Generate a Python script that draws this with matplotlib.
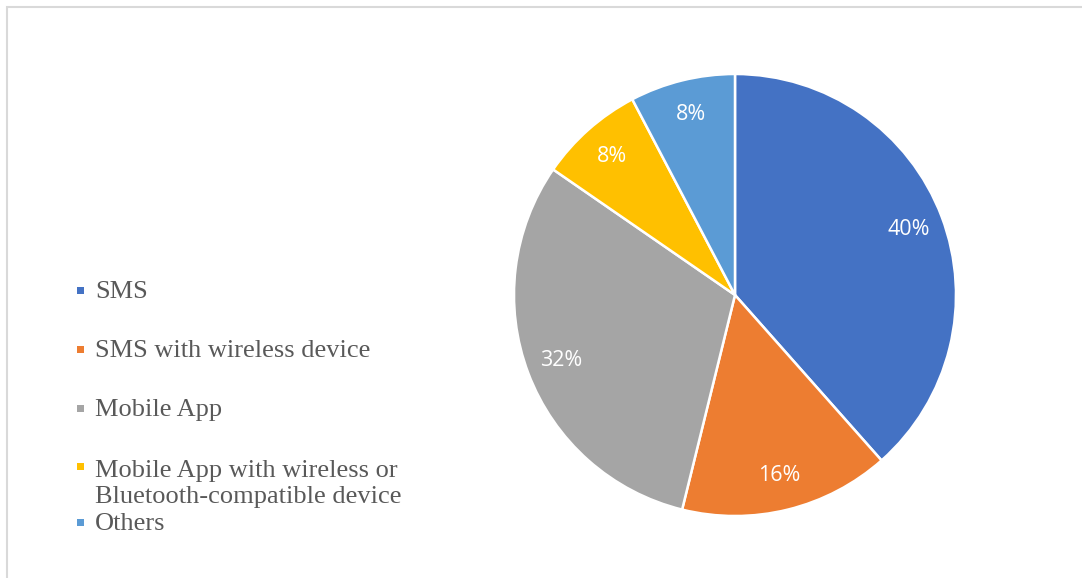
import matplotlib.pyplot as plt
from matplotlib.patches import Rectangle

# share of each notification channel
categories = ["SMS", "SMS with wireless device", "Mobile App",
              "Mobile App with wireless or\nBluetooth-compatible device", "Others"]
values = [40, 16, 32, 8, 8]
colors = ["#4472C4", "#ED7D31", "#A5A5A5", "#FFC000", "#5B9BD5"]

W, H = 1082, 578
fig = plt.figure(figsize=(W / 100, H / 100), dpi=100)

# chart frame (only top and left edge fall inside the image)
fig.patches.append(Rectangle((7 / W, -0.1), 1.2, (H - 7) / H + 0.1, transform=fig.transFigure,
                             fill=False, edgecolor="#D9D9D9", linewidth=1.5))

# pie
cx, cy, r = 735, 295, 221
ax = fig.add_axes([(cx - r) / W, (H - cy - r) / H, 2 * r / W, 2 * r / H])
wedges, texts = ax.pie(values, labels=[str(v) + "%" for v in values], colors=colors,
                       startangle=90, counterclock=False, radius=1, labeldistance=0.84,
                       wedgeprops=dict(edgecolor="white", linewidth=1.8),
                       textprops=dict(color="white", fontsize=15.5, family="Open Sans"))
for t in texts:
    t.set_horizontalalignment("center")
    t.set_verticalalignment("center")
ax.set_xlim(-1, 1)
ax.set_ylim(-1, 1)
ax.set_aspect("equal")
ax.axis("off")

# legend on the left: marker sits on the first line, text baseline is the last line
first_lines = [298, 357, 416, 474, 530]
last_lines = [298, 357, 416, 503, 530]
for name, color, y0, y1 in zip(categories, colors, first_lines, last_lines):
    fig.patches.append(Rectangle((77 / W, (H - y0 + 4) / H), 7 / W, 7 / H,
                                 transform=fig.transFigure, facecolor=color, edgecolor="none"))
    fig.text(95 / W, (H - y1) / H, name, fontsize=19, family="Liberation Serif",
             color="#595959", va="baseline", ha="left", linespacing=1.22)

fig.savefig("out.png", dpi=100)
